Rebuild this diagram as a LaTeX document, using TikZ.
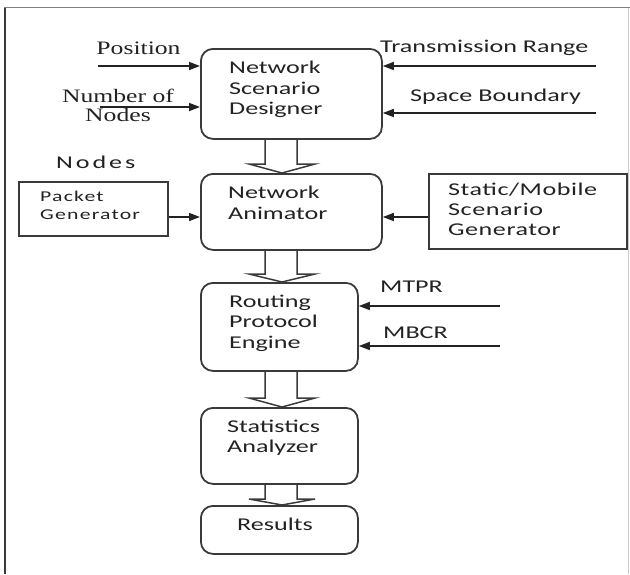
\documentclass[tikz,border=0pt]{standalone}
\usepackage{fontspec}
\usetikzlibrary{arrows.meta,calc}
\newfontfamily\lblsf[FakeStretch=1.45]{Carlito}
\newfontfamily\lblsfsp[FakeStretch=1.45,LetterSpace=3]{Carlito}
\newfontfamily\lblsfwide[FakeStretch=1.45,LetterSpace=16]{Carlito}
\newfontfamily\lblsfpk[FakeStretch=1.45,LetterSpace=8]{Carlito}
\newfontfamily\lblrm[FakeStretch=1.35]{Liberation Serif}
\definecolor{ink}{HTML}{222222}
\definecolor{edge}{HTML}{3A3A3A}
\newcommand{\blockarrow}[3]{%
  \draw[blk] (cl |- #1.south) -- ($(cl |- #2.north)+(0,-#3)$) -- ($(hl |- #2.north)+(0,-#3)$)
    -- (ct |- #2.north) -- ($(hr |- #2.north)+(0,-#3)$) -- ($(cr |- #2.north)+(0,-#3)$) -- (cr |- #1.south);}
\begin{document}
\begin{tikzpicture}[x=1pt,y=-1pt,
  rbox/.style={draw=edge, line width=1.8pt, rounded corners=12pt, anchor=north west, inner sep=0pt},
  sbox/.style={draw=edge, line width=1.8pt, anchor=north west, inner sep=0pt},
  boxtxt/.style={text=ink, font=\lblsf\fontsize{18}{20.5}\selectfont, align=left, anchor=west, inner sep=0pt},
  sflbl/.style={text=ink, font=\lblsf\fontsize{18}{20.5}\selectfont, anchor=west, inner sep=0pt},
  rmlbl/.style={text=ink, font=\lblrm\fontsize{19}{19}\selectfont, align=center, inner sep=0pt},
  arr/.style={draw=ink, line width=1.6pt, -{Triangle[length=11pt,width=8pt]}},
  blk/.style={draw=edge, line width=1.5pt, line join=miter},
  frameline/.style={draw=edge, line width=2.5pt}]
\useasboundingbox (0,0) rectangle (630,574);
% frame
\draw[frameline] (5,574) -- (5,7.5);
\draw[draw=gray, line width=1.3pt] (4,7.5) -- (630,7.5);
\draw[draw=black!20, line width=1pt] (628.5,7.5) -- (628.5,574);
% x guides for block arrows
\coordinate (cl) at (265,0);
\coordinate (cr) at (297,0);
\coordinate (hl) at (249,0);
\coordinate (hr) at (315,0);
\coordinate (ct) at (282,0);
% boxes
\node[rbox, minimum width=181pt, minimum height=90pt] (nsd) at (200,48) {};
\node[rbox, minimum width=181pt, minimum height=76pt] (na) at (200,173) {};
\node[rbox, minimum width=157pt, minimum height=88pt] (rpe) at (200,282) {};
\node[rbox, minimum width=157pt, minimum height=76pt] (sa) at (200,407) {};
\node[rbox, minimum width=157pt, minimum height=48pt] (res) at (200,505) {};
\node[sbox, minimum width=149pt, minimum height=54pt] (pg) at (18,181) {};
\node[sbox, minimum width=198pt, minimum height=75pt] (smg) at (428,173) {};
% box texts
\node[boxtxt] (nsdt) at (229,89.5) {Network\\Scenario\\Designer};
\node[boxtxt] (nat) at (228,203) {Network\\Animator};
\node[boxtxt] (rpet) at (229,323) {Routing\\Protocol\\Engine};
\node[boxtxt] (sat) at (227,437.5) {Statistics\\Analyzer};
\node[boxtxt, anchor=center] (rest) at (275,524) {Results};
\node[boxtxt, font=\lblsfpk\fontsize{15}{18}\selectfont] (pgt) at (40,205) {Packet\\Generator};
\node[boxtxt, font=\lblsfsp\fontsize{18}{20}\selectfont] (smgt) at (448,209) {Static/Mobile\\Scenario\\Generator};
% labels
\node[rmlbl] (posl) at (138.5,48) {Position};
\node[rmlbl] (nonl) at (118,105.5) {Number of\\Nodes};
\node[sflbl] (trl) at (380,48) {Transmission Range};
\node[sflbl] (sbl) at (410,97) {Space Boundary};
\node[sflbl, font=\lblsfwide\fontsize{18}{20.5}\selectfont] (nodesl) at (56,162) {Nodes};
\node[sflbl] (mtprl) at (380,287) {MTPR};
\node[sflbl] (mbcrl) at (383,333) {MBCR};
% input arrows
\coordinate (posa) at (98,66);
\coordinate (nona) at (100,107);
\coordinate (tra) at (596,66);
\coordinate (sba) at (596,113);
\coordinate (mta) at (500,306);
\coordinate (mba) at (500,346);
\coordinate (y217) at (0,217);
\draw[arr] (posa) -- (posa -| nsd.west);
\draw[arr] (nona) -- (nona -| nsd.west);
\draw[arr] (tra) -- (tra -| nsd.east);
\draw[arr] (sba) -- (sba -| nsd.east);
\draw[arr] (pg.east |- y217) -- (na.west |- y217);
\draw[arr] (smg.west |- y217) -- (na.east |- y217);
\draw[arr] (mta) -- (mta -| rpe.east);
\draw[arr] (mba) -- (mba -| rpe.east);
% block arrows
\blockarrow{nsd}{na}{9}
\blockarrow{na}{rpe}{8}
\blockarrow{rpe}{sa}{9}
\blockarrow{sa}{res}{6}
\end{tikzpicture}
\end{document}
